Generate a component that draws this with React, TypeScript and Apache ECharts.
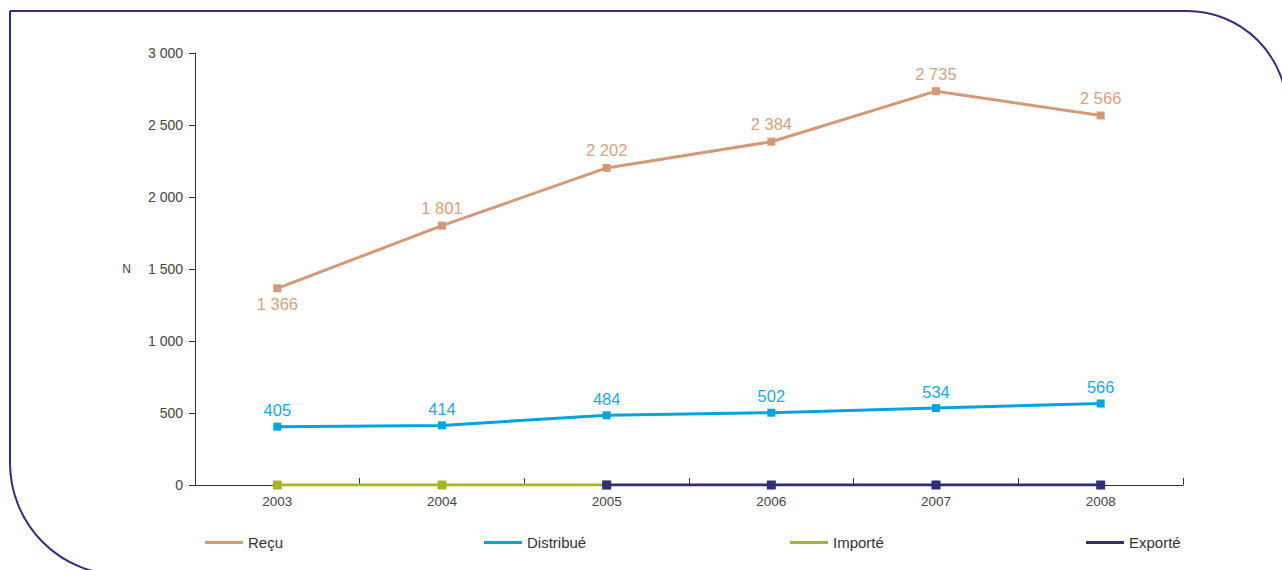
import React, { useEffect, useRef } from "react";
import * as echarts from "echarts";

const years = ["2003", "2004", "2005", "2006", "2007", "2008"];
const recu = [1366, 1801, 2202, 2384, 2735, 2566];
const distribue = [405, 414, 484, 502, 534, 566];
const importe = [0, 0, 0, null, null, null];
const exporte = [null, null, 0, 0, 0, 0];
const recuLabelPos = ["bottom", "top", "top", "top", "top", "top"];

const C_RECU = "#D49A78";
const C_DIST = "#00A5DF";
const C_IMP = "#A9B526";
const C_EXP = "#2E2F78";
const FONT = "Liberation Sans, Arial, sans-serif";

const fmt = (v: number) => String(v).replace(/\B(?=(\d{3})+(?!\d))/g, " ");

export default function App() {
  const ref = useRef<HTMLDivElement>(null);
  useEffect(() => {
    document.body.style.margin = "0";
    const chart = echarts.init(ref.current!, null, { renderer: "svg" });
    const legend = (name: string, left: number) => ({
      left,
      top: 530,
      icon: "rect",
      itemWidth: 38,
      itemHeight: 3,
      data: [name],
      textStyle: { fontSize: 15, color: "#333", fontFamily: FONT },
      selectedMode: false,
    });
    chart.setOption({
      animation: false,
      textStyle: { fontFamily: FONT },
      graphic: [
        {
          type: "rect",
          shape: { x: 10, y: 11, width: 1277, height: 564, r: [0, 100, 0, 112] },
          style: { fill: "none", stroke: "#2E3080", lineWidth: 2 },
          silent: true,
          z: -1,
        },
      ],
      legend: [
        legend("Reçu", 200),
        legend("Distribué", 479),
        legend("Importé", 785),
        legend("Exporté", 1081),
      ],
      grid: { left: 195, right: 99, top: 53, bottom: 85 },
      xAxis: {
        type: "category",
        data: years,
        boundaryGap: true,
        axisLine: { lineStyle: { color: "#333", width: 1 } },
        axisTick: { show: true, inside: true, length: 7, interval: 0, lineStyle: { color: "#333", width: 1 } },
        axisLabel: { color: "#444", fontSize: 13.5, margin: 9, fontFamily: FONT },
      },
      yAxis: {
        type: "value",
        min: 0,
        max: 3000,
        interval: 500,
        name: "N",
        nameLocation: "middle",
        nameRotate: 0,
        nameGap: 64,
        nameTextStyle: { color: "#444", fontSize: 12, fontFamily: FONT },
        axisLine: { show: true, lineStyle: { color: "#333", width: 1 } },
        axisTick: { show: true, length: 6, lineStyle: { color: "#333" } },
        splitLine: { show: false },
        axisLabel: {
          color: "#444",
          fontSize: 14,
          margin: 12,
          fontFamily: FONT,
          formatter: (v: number) => fmt(v),
        },
      },
      series: [
        {
          name: "Reçu",
          type: "line",
          data: recu.map((v, i) => ({
            value: v,
            label: { position: recuLabelPos[i], distance: i === 0 ? 3 : 5 },
          })),
          color: C_RECU,
          lineStyle: { width: 3 },
          symbol: "rect",
          symbolSize: 8,
          label: {
            show: true,
            fontSize: 16.5,
            color: "#DB9F7F",
            distance: 5,
            fontFamily: FONT,
            formatter: (p: any) => fmt(p.value),
          },
          z: 3,
        },
        {
          name: "Distribué",
          type: "line",
          data: distribue,
          color: C_DIST,
          lineStyle: { width: 3 },
          symbol: "rect",
          symbolSize: 8,
          label: {
            show: true,
            position: "top",
            fontSize: 16.5,
            color: "#1AA9E2",
            distance: 4,
            fontFamily: FONT,
            formatter: (p: any) => fmt(p.value),
          },
          z: 3,
        },
        {
          name: "Importé",
          type: "line",
          data: importe,
          color: C_IMP,
          lineStyle: { width: 3 },
          symbol: "rect",
          symbolSize: 9,
          z: 3,
        },
        {
          name: "Exporté",
          type: "line",
          data: exporte,
          color: C_EXP,
          lineStyle: { width: 3 },
          symbol: "rect",
          symbolSize: 9,
          z: 4,
        },
      ],
    });
    return () => chart.dispose();
  }, []);
  return <div ref={ref} style={{ width: 1282, height: 570 }} />;
}
